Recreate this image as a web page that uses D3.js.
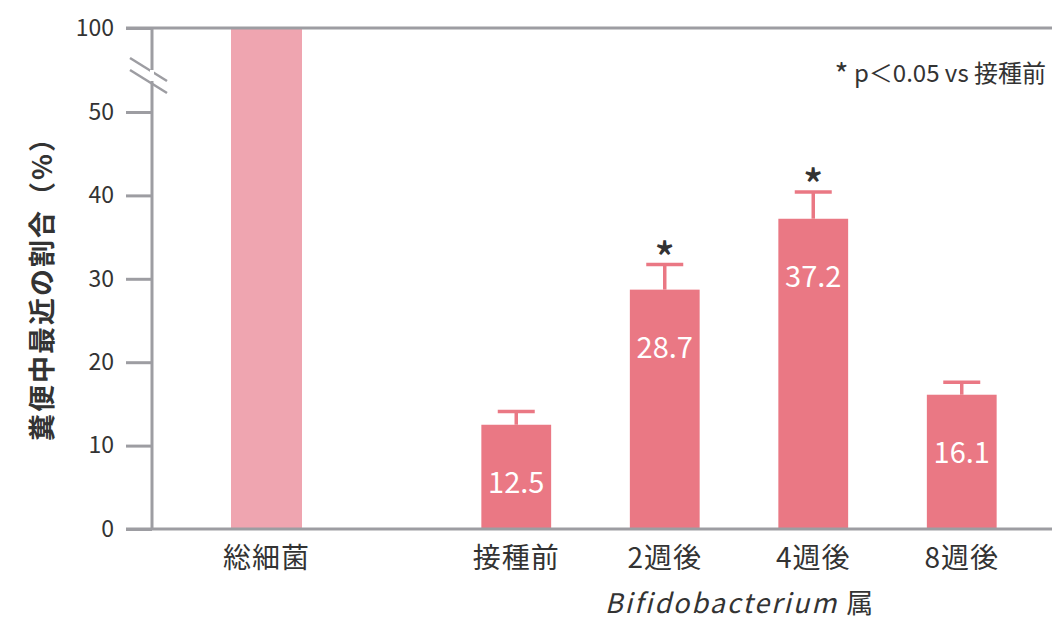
<!DOCTYPE html>
<html>
<head>
<meta charset="utf-8">
<script src="https://cdn.jsdelivr.net/npm/d3@7"></script>
<style>
  body { margin: 0; background: #fff; }
  text { font-family: "Noto Sans CJK JP", "Noto Sans", sans-serif; }
</style>
</head>
<body>
<div id="chart"></div>
<script>
// data
var totalCategory = ["総細菌"];
var totalValue = [100];
var bifidoCategories = ["接種前", "2週後", "4週後", "8週後"];
var bifidoValues = [12.5, 28.7, 37.2, 16.1];
var bifidoErrors = [1.6, 3.0, 3.2, 1.5];
var significant = [false, true, true, false];
var yTickValues = [0, 10, 20, 30, 40, 50, 100];

var svgWidth = 1052;
var svgHeight = 620;
var margin = { top: 28, right: 0, bottom: 91, left: 152 };
var width = svgWidth - margin.left - margin.right;
var height = svgHeight - margin.top - margin.bottom;

var gray = "#9d9da2";
var barColor = "#ea7884";
var totalColor = "#efa5b0";
var textColor = "#333";

var svg = d3.select("#chart")
  .append("svg")
  .attr("width", svgWidth)
  .attr("height", svgHeight);

var chartGroup = svg.append("g")
  .attr("transform", `translate(${margin.left}, ${margin.top})`);

// broken y scale: 0-50 linear, then jump to 100 at top
var yScale = d3.scaleLinear()
  .domain([0, 50, 100])
  .range([height, height - 50 * 8.34, 0]);

var xTotal = d3.scaleBand()
  .domain(totalCategory)
  .range([79, 150])
  .padding(0);

var xBifido = d3.scaleBand()
  .domain(bifidoCategories)
  .range([290, 884])
  .paddingInner(0.53)
  .paddingOuter(0.265);

// bars
chartGroup.selectAll(".total-bar")
  .data(totalCategory)
  .enter()
  .append("rect")
  .attr("class", "total-bar")
  .attr("x", d => xTotal(d))
  .attr("y", (d, i) => yScale(totalValue[i]))
  .attr("width", xTotal.bandwidth())
  .attr("height", (d, i) => height - yScale(totalValue[i]))
  .attr("fill", totalColor);

var bars = chartGroup.selectAll(".bifido-bar")
  .data(bifidoCategories)
  .enter()
  .append("g")
  .attr("class", "bifido-bar");

bars.append("rect")
  .attr("x", d => xBifido(d))
  .attr("y", (d, i) => yScale(bifidoValues[i]))
  .attr("width", xBifido.bandwidth())
  .attr("height", (d, i) => height - yScale(bifidoValues[i]))
  .attr("fill", barColor);

// error bars
var capHalf = 18.5;
bars.append("line")
  .attr("x1", d => xBifido(d) + xBifido.bandwidth() / 2)
  .attr("x2", d => xBifido(d) + xBifido.bandwidth() / 2)
  .attr("y1", (d, i) => yScale(bifidoValues[i]))
  .attr("y2", (d, i) => yScale(bifidoValues[i] + bifidoErrors[i]))
  .attr("stroke", barColor)
  .attr("stroke-width", 3.5);

bars.append("line")
  .attr("x1", d => xBifido(d) + xBifido.bandwidth() / 2 - capHalf)
  .attr("x2", d => xBifido(d) + xBifido.bandwidth() / 2 + capHalf)
  .attr("y1", (d, i) => yScale(bifidoValues[i] + bifidoErrors[i]))
  .attr("y2", (d, i) => yScale(bifidoValues[i] + bifidoErrors[i]))
  .attr("stroke", barColor)
  .attr("stroke-width", 3.5);

// value labels
bars.append("text")
  .attr("x", d => xBifido(d) + xBifido.bandwidth() / 2)
  .attr("y", (d, i) => yScale(bifidoValues[i]) + 55)
  .attr("text-anchor", "middle")
  .attr("dominant-baseline", "central")
  .attr("font-size", 29)
  .attr("fill", "#fff")
  .text((d, i) => bifidoValues[i].toFixed(1));

// significance marks
bars.filter((d, i) => significant[i])
  .append("text")
  .attr("x", d => xBifido(d) + xBifido.bandwidth() / 2)
  .attr("y", d => {
    var i = bifidoCategories.indexOf(d);
    return yScale(bifidoValues[i] + bifidoErrors[i]) + 9;
  })
  .attr("text-anchor", "middle")
  .attr("font-size", 42)
  .attr("font-weight", 500)
  .attr("fill", textColor)
  .text("*");

// y axis
var leftAxis = d3.axisLeft(yScale)
  .tickValues(yTickValues)
  .tickSize(26)
  .tickPadding(12)
  .tickFormat(d3.format("d"));

var yAxis = chartGroup.append("g").call(leftAxis);
yAxis.select(".domain").remove();
yAxis.selectAll(".tick line").attr("stroke", gray).attr("stroke-width", 3);
yAxis.selectAll(".tick text")
  .attr("font-size", 23)
  .attr("fill", textColor)
  .attr("font-family", "Liberation Sans, sans-serif");

// frame lines: vertical axis, top line, baseline
chartGroup.append("line")
  .attr("x1", 0).attr("x2", 0)
  .attr("y1", 0).attr("y2", height)
  .attr("stroke", gray).attr("stroke-width", 3);

chartGroup.append("line")
  .attr("x1", -26).attr("x2", width)
  .attr("y1", 0).attr("y2", 0)
  .attr("stroke", gray).attr("stroke-width", 3);

chartGroup.append("line")
  .attr("x1", -26).attr("x2", width)
  .attr("y1", height).attr("y2", height)
  .attr("stroke", gray).attr("stroke-width", 3);

// axis break marks
[0, 12].forEach(function(off) {
  chartGroup.append("line")
    .attr("x1", -22).attr("x2", 15)
    .attr("y1", 30 + off).attr("y2", 53 + off)
    .attr("stroke", gray).attr("stroke-width", 2.5);
});
// gap in the axis between the marks
chartGroup.append("line")
  .attr("x1", 0).attr("x2", 0)
  .attr("y1", 42).attr("y2", 53)
  .attr("stroke", "#fff").attr("stroke-width", 4);

// x labels
chartGroup.selectAll(".total-label")
  .data(totalCategory)
  .enter()
  .append("text")
  .attr("x", d => xTotal(d) + xTotal.bandwidth() / 2)
  .attr("y", height + 39)
  .attr("text-anchor", "middle")
  .attr("font-size", 28)
  .attr("letter-spacing", 1)
  .attr("fill", textColor)
  .text(d => d);

chartGroup.selectAll(".bifido-label")
  .data(bifidoCategories)
  .enter()
  .append("text")
  .attr("x", d => xBifido(d) + xBifido.bandwidth() / 2)
  .attr("y", height + 39)
  .attr("text-anchor", "middle")
  .attr("font-size", 28)
  .attr("letter-spacing", 1)
  .attr("fill", textColor)
  .text(d => d);

var genusLabel = chartGroup.append("text")
  .attr("x", (xBifido("接種前") + xBifido("8週後") + xBifido.bandwidth()) / 2)
  .attr("y", height + 84)
  .attr("text-anchor", "middle")
  .attr("font-size", 27)
  .attr("fill", textColor);
genusLabel.append("tspan").attr("font-style", "italic").attr("letter-spacing", 2).text("Bifidobacterium ");
genusLabel.append("tspan").text("属");

// y title
chartGroup.append("text")
  .attr("transform", "rotate(-90)")
  .attr("x", -282 + margin.top)
  .attr("y", -112)
  .attr("text-anchor", "middle")
  .attr("dominant-baseline", "central")
  .attr("font-size", 27)
  .attr("letter-spacing", 2)
  .attr("font-weight", 600)
  .attr("fill", textColor)
  .text("糞便中最近の割合（%）");

// note
var note = chartGroup.append("text")
  .attr("x", width - 6)
  .attr("y", 54)
  .attr("text-anchor", "end")
  .attr("font-size", 24)
  .attr("fill", textColor);
note.append("tspan").attr("font-size", 30).attr("dy", 4).text("*");
note.append("tspan").attr("dy", -4).text(" p＜0.05 vs 接種前");
</script>
</body>
</html>
